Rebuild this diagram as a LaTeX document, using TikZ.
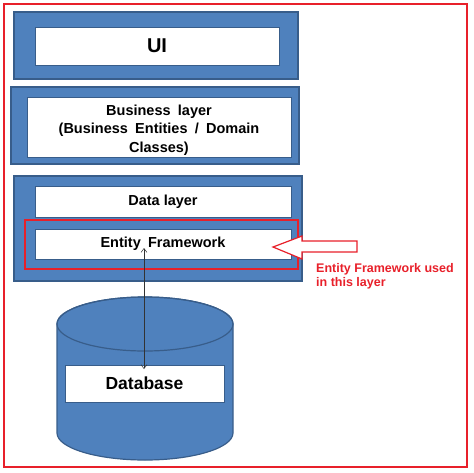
\documentclass[tikz,border=0pt]{standalone}
\usepackage{fontspec}
\setmainfont{Liberation Sans}
\usetikzlibrary{arrows.meta}
\definecolor{bluefill}{HTML}{4F81BD}
\definecolor{blueedge}{HTML}{385D8A}
\definecolor{redline}{HTML}{E8202A}
\newcommand\widesp[1]{\spaceskip=#1\relax}
\tikzset{
  outerbox/.style={fill=bluefill, draw=blueedge, line width=1.2pt, inner sep=0pt},
  innerbox/.style={fill=white, draw=blueedge, line width=0.8pt, inner sep=0pt, font=\bfseries, align=center},
  redbox/.style={draw=redline, line width=1.5pt, inner sep=0pt},
  conn/.style={draw=black!80, line width=0.5pt, {Straight Barb[length=4pt,width=6pt]}-{Straight Barb[length=4pt,width=6pt]}},
}
\begin{document}
\begin{tikzpicture}[x=1pt,y=-1pt]
\useasboundingbox (0,0) rectangle (474,472);
\node[redbox, minimum width=463pt, minimum height=463pt] (frame) at (235.5,235.5) {};
% UI
\node[outerbox, minimum width=284pt, minimum height=67pt] (uiout) at (156,45.5) {};
\node[innerbox, minimum width=244pt, minimum height=38pt, font=\bfseries\fontsize{20}{22}\selectfont] (ui) at (157,46) {UI};
% Business
\node[outerbox, minimum width=288pt, minimum height=77pt] (bizout) at (155,125.5) {};
\node[innerbox, minimum width=264pt, minimum height=60pt] (biz) at (159,127) {};
\node[inner sep=0pt, align=center, font=\bfseries\fontsize{14.5}{18.5}\selectfont\widesp{0.5em}] (biztext) at (159,130) {Business layer\\(Business Entities / Domain\\Classes)};
% Data
\node[outerbox, minimum width=288pt, minimum height=105pt] (dataout) at (158,228.5) {};
\node[innerbox, minimum width=256pt, minimum height=31pt, font=\bfseries\fontsize{14.5}{16}\selectfont] (data) at (163,201.5) {Data layer};
\node[innerbox, minimum width=256pt, minimum height=30pt, font=\bfseries\fontsize{14.5}{16}\selectfont\widesp{0.5em}] (ef) at (163,244) {Entity Framework};
\node[redbox, minimum width=273pt, minimum height=49pt] (efred) at (161.5,244.5) {};
% red arrow
\draw[redline, line width=1.2pt, fill=white, line join=miter] (273,247) -- (302,236) -- (302,241) -- (357,241) -- (357,252) -- (302,252) -- (302,259) -- cycle;
\node[anchor=north west, text=redline, font=\bfseries\fontsize{12.5}{14}\selectfont, align=left, inner sep=0pt] (note) at (316,263.5) {Entity Framework used\\in this layer};
% cylinder
\filldraw[fill=bluefill, draw=blueedge, line width=1.2pt] (57,324) -- (57,433) arc[start angle=180, end angle=0, x radius=88, y radius=27] -- (233,324) arc[start angle=0, end angle=-180, x radius=88, y radius=27] -- cycle;
\draw[blueedge, line width=1.2pt] (145,324) ellipse[x radius=88, y radius=27];
\node[innerbox, minimum width=159pt, minimum height=37pt, font=\bfseries\fontsize{17.5}{20}\selectfont] (db) at (144.5,383.5) {Database};
% connector
\coordinate (c1) at (144,248);
\coordinate (c2) at (144,369);
\draw[conn] (c1) -- (c2);
\end{tikzpicture}
\end{document}
